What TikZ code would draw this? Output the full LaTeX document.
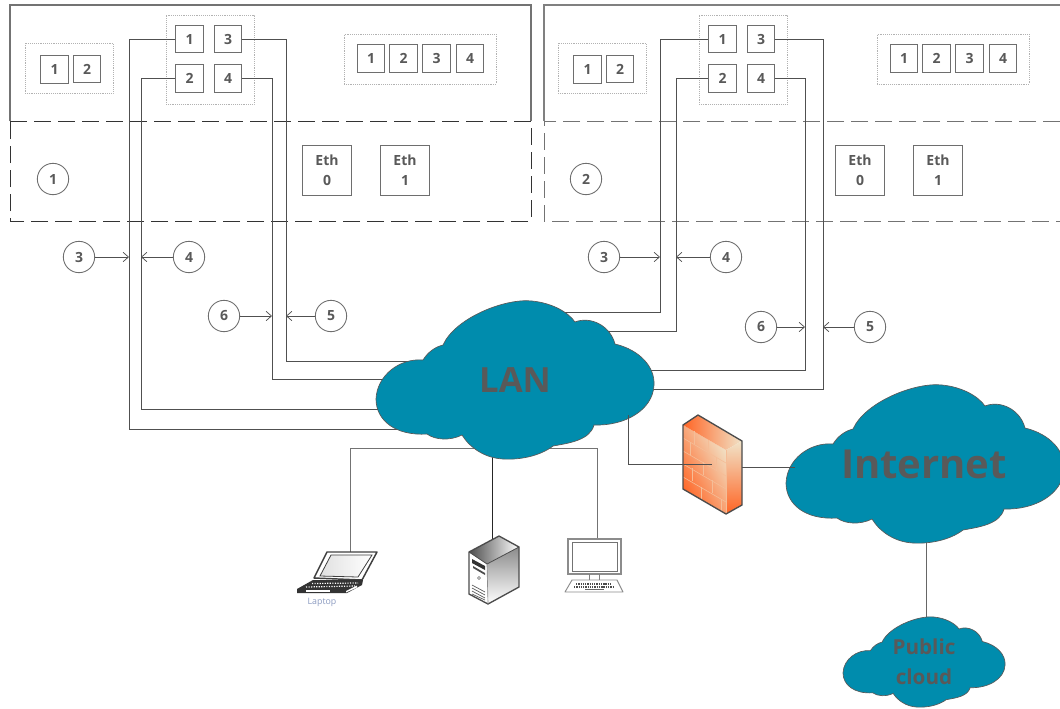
\documentclass[tikz,border=0pt]{standalone}
\usepackage{fontspec}
\setmainfont{Open Sans}
\usetikzlibrary{arrows.meta,calc}
\definecolor{wire}{HTML}{505050}
\definecolor{boxline}{HTML}{6E6E6E}
\definecolor{txt}{HTML}{595959}
\definecolor{cloudblue}{HTML}{008CAD}
\definecolor{brickorange}{HTML}{FF6424}
\definecolor{brickcream}{HTML}{F1E3C8}
\definecolor{labelblue}{HTML}{8A9AC0}
\tikzset{
  wireline/.style={draw=wire,line width=0.65pt},
  frameline/.style={draw=#1,line width=0.85pt},
  dashline/.style={draw=#1,line width=0.65pt,dash pattern=on 12.5pt off 5.5pt},
  dotgroup/.style={draw=black!30,line width=0.4pt,densely dotted},
  portbox/.style={draw=boxline,line width=0.95pt,fill=white,minimum width=20.5pt,minimum height=20.5pt,inner sep=0pt,text=txt,font=\fontsize{10.5}{12}\selectfont\bfseries},
  ethbox/.style={draw=boxline,line width=0.85pt,fill=white,minimum width=37pt,minimum height=37pt,inner sep=0pt,text=txt,align=center,font=\fontsize{10.5}{15}\selectfont\bfseries},
  numcircle/.style={circle,draw=boxline,line width=0.65pt,fill=white,minimum size=23.5pt,inner sep=0pt,text=txt,font=\fontsize{10.5}{12}\selectfont\bfseries},
  callout/.style={draw=wire,line width=0.6pt,-{Straight Barb[length=4pt,width=7pt,line width=0.55pt]}},
  cloudshape/.style={fill=cloudblue,draw=black!65,line width=0.5pt},
  cloudtext/.style={text=txt,font=\bfseries,inner sep=0pt,align=center},
  brickline/.style={draw=brickcream!70!brickorange,line width=0.45pt},
  devline/.style={draw=black!75,line width=1pt,line join=round},
}
% cloud outline in the pixel coordinates of the LAN cloud
\newcommand{\cloudoutline}{
  (443,345) .. controls (455,318) and (505,298) .. (532,301)
  .. controls (552,303) and (568,312) .. (575,322)
  .. controls (590,316) and (610,325) .. (615,344)
  .. controls (640,350) and (655,367) .. (654,385)
  .. controls (653,410) and (625,426) .. (594,425)
  .. controls (590,440) and (570,443) .. (553,446)
  .. controls (540,456) and (520,460) .. (503,459)
  .. controls (485,458) and (470,448) .. (462,435)
  .. controls (450,441) and (435,440) .. (427,434)
  .. controls (395,436) and (376,420) .. (376,399)
  .. controls (377,375) and (400,358) .. (423,360)
  .. controls (428,352) and (435,347) .. (443,345) -- cycle
}
% ports, groups and frames common to both servers
\newcommand{\servertop}{
  \node[dotgroup,minimum width=66pt,minimum height=37.5pt,inner sep=0pt] (gl) at (69,68) {};
  \node[dotgroup,minimum width=66pt,minimum height=67pt,inner sep=0pt] (gm) at (210,59.5) {};
  \node[dotgroup,minimum width=114pt,minimum height=37.5pt,inner sep=0pt] (gr) at (420,59) {};
  \node[portbox] (l1) at (54.5,69.5) {1};
  \node[portbox] (l2) at (87,69) {2};
  \node[portbox] (p1) at (189.5,39) {1};
  \node[portbox] (p3) at (228,39) {3};
  \node[portbox] (p2) at (189.5,78.5) {2};
  \node[portbox] (p4) at (228,78.5) {4};
  \node[portbox] (r1) at (371,58.5) {1};
  \node[portbox] (r2) at (403.5,58.5) {2};
  \node[portbox] (r3) at (436.5,58.5) {3};
  \node[portbox] (r4) at (470,58.5) {4};
  \node[ethbox] (e0) at (327,170.5) {Eth\\0};
  \node[ethbox] (e1) at (405,170.5) {Eth\\1};
}
\begin{document}
\begin{tikzpicture}[x=0.75pt,y=-0.75pt]
\useasboundingbox (0,0) rectangle (1060,708);
\fill[white] (0,0) rectangle (1060,708);

% server frames
\draw[frameline=black!55] (10,121) -- (10,5) -- (531,5) -- (531,121);
\draw[dashline=black!80] (10,121) -- (531,121) -- (531,221) -- (10,221) -- cycle;
\draw[frameline=black!50] (544,121) -- (544,5) -- (1060,5);
\draw[dashline=black!55] (1060,121) -- (544,121) -- (544,221) -- (1060,221);

% wires, server 1
\coordinate (a1b) at (129,429); \coordinate (a1e) at (400,429);
\coordinate (a2b) at (141,409); \coordinate (a2e) at (400,409);
\coordinate (a3b) at (286,361); \coordinate (a3e) at (420,361);
\coordinate (a4b) at (272,379); \coordinate (a4e) at (400,379);
% wires, server 2
\coordinate (b1b) at (660,312); \coordinate (b1e) at (560,312);
\coordinate (b2b) at (676,331); \coordinate (b2e) at (600,331);
\coordinate (b3b) at (823,389); \coordinate (b3e) at (640,389);
\coordinate (b4b) at (805,370); \coordinate (b4e) at (640,370);

\begin{scope}[name prefix=a-]\servertop\end{scope}
\begin{scope}[shift={(533,0)},name prefix=b-]\servertop\end{scope}

\draw[wireline] (a-p1.west) -| (a1b) -- (a1e);
\draw[wireline] (a-p2.west) -| (a2b) -- (a2e);
\draw[wireline] (a-p3.east) -| (a3b) -- (a3e);
\draw[wireline] (a-p4.east) -| (a4b) -- (a4e);
\draw[wireline] (b-p1.west) -| (b1b) -- (b1e);
\draw[wireline] (b-p2.west) -| (b2b) -- (b2e);
\draw[wireline] (b-p3.east) -| (b3b) -- (b3e);
\draw[wireline] (b-p4.east) -| (b4b) -- (b4e);

% number circles and their arrows
\node[numcircle] (n1) at (53,179) {1};
\node[numcircle] (m2) at (586,179) {2};
\node[numcircle] (n3) at (79,257) {3};
\node[numcircle] (n4) at (189,257) {4};
\node[numcircle] (n6) at (224,316) {6};
\node[numcircle] (n5) at (331,316) {5};
\node[numcircle] (m3) at (604,257) {3};
\node[numcircle] (m4) at (726,257) {4};
\node[numcircle] (m6) at (761,327) {6};
\node[numcircle] (m5) at (870,327) {5};
\coordinate (t3) at (129,257); \coordinate (t4) at (141,257);
\coordinate (t6) at (272,316); \coordinate (t5) at (286,316);
\coordinate (u3) at (660,257); \coordinate (u4) at (676,257);
\coordinate (u6) at (805,327); \coordinate (u5) at (823,327);
\draw[callout] (n3) -- (t3); \draw[callout] (n4) -- (t4);
\draw[callout] (n6) -- (t6); \draw[callout] (n5) -- (t5);
\draw[callout] (m3) -- (u3); \draw[callout] (m4) -- (u4);
\draw[callout] (m6) -- (u6); \draw[callout] (m5) -- (u5);

% connectors below the LAN
\coordinate (lanBL) at (480,448); \coordinate (lanBR) at (540,448);
\coordinate (lanB) at (492,450); \coordinate (lanFW) at (628,415);
\coordinate (lapTop) at (350,552); \coordinate (pcTop) at (597,540);
\coordinate (srvTop) at (492,540); \coordinate (fwIn) at (712,464);
\coordinate (fwOut) at (742,467); \coordinate (netIn) at (795,467);
\coordinate (netOut) at (926,540); \coordinate (pubIn) at (926,620);
\draw[wireline,draw=black!55] (lanBL) -| (lapTop);
\draw[wireline,draw=black!55] (lanBR) -| (pcTop);
\draw[wireline,draw=black!85] (lanB) -- (srvTop);
\draw[wireline,draw=black!60] (netOut) -- (pubIn);

% clouds
\fill[cloudshape] \cloudoutline;
\begin{scope}[shift={(410,84)}]\fill[cloudshape] \cloudoutline;\end{scope}
\begin{scope}[shift={(843,617)},xscale=0.583,yscale=0.57,shift={(-376,-301)}]\fill[cloudshape] \cloudoutline;\end{scope}
\node[cloudtext,font=\fontsize{26}{30}\selectfont\bfseries] (lan) at (515,380) {LAN};
\node[cloudtext,font=\fontsize{30}{34}\selectfont\bfseries] (net) at (924,464) {Internet};
\node[cloudtext,font=\fontsize{15.5}{22.5}\selectfont\bfseries] (pub) at (924,662) {Public\\cloud};

% firewall
\shade[bottom color=brickorange,middle color=brickorange!75!brickcream,top color=brickcream,shading angle=-62,draw=none] (683,425) -- (726,450) -- (726,514) -- (683,489) -- cycle;
\shade[left color=brickorange,right color=brickcream,draw=none] (683,425) -- (698,415) -- (742,441) -- (726,450) -- cycle;
\shade[top color=brickcream,bottom color=brickorange,draw=none] (726,450) -- (742,441) -- (742,505) -- (726,514) -- cycle;
\draw[brickline] (683,438) -- (726,463) (683,451) -- (726,476) (683,464) -- (726,489) (683,477) -- (726,502);
\draw[brickline] (694,431) -- (694,444) (708,440) -- (708,453) (690,442) -- (690,455) (703,462) -- (703,475)
  (716,457) -- (716,470) (692,468) -- (692,481) (712,480) -- (712,493) (701,487) -- (701,500) (721,499) -- (721,512);
\draw[brickline] (726,450) -- (726,514);
\draw[devline,draw=black!70] (683,425) -- (698,415) -- (742,441) -- (742,505) -- (726,514) -- (683,489) -- cycle;
\draw[wireline] (lanFW) |- (fwIn);
\draw[wireline] (fwOut) -- (netIn);

% server tower
\fill[white] (469,552) -- (499,536) -- (519,547) -- (519,587) -- (488,604) -- (469,594) -- cycle;
\shade[left color=black!70,right color=white] (469,552) -- (499,536) -- (519,547) -- (487,564) -- cycle;
\shade[left color=black!45,right color=white,shading angle=0] (487,564) -- (519,547) -- (519,587) -- (488,604) -- cycle;
\fill[black!80] (472,559) -- (485,566) -- (485,570) -- (472,563) -- cycle;
\fill[black!70] (473,566) -- (485,573) -- (485,575) -- (473,568) -- cycle;
\draw[black!60,line width=0.4pt] (479,578) circle (1.6);
\draw[black!65,line width=0.5pt] (472,585) -- (485,592) (472,588) -- (485,595) (472,591) -- (485,598) (472,594) -- (485,600);
\draw[devline,draw=black!70] (469,552) -- (499,536) -- (519,547) -- (519,587) -- (488,604) -- (469,594) -- cycle;
\draw[black!70,line width=0.6pt] (469,552) -- (487,564) -- (519,547);
\draw[black!45,line width=0.5pt] (487,564) -- (488,604);

% desktop computer
\draw[black!45,line width=0.9pt,fill=white] (568,539) rectangle (621,574);
\draw[black!55,line width=0.7pt] (572,542) rectangle (617,571);
\draw[black!50,line width=0.6pt] (589,574) -- (589,580) (599,574) -- (599,580);
\draw[black!45,line width=0.7pt,line join=round] (572,580) -- (617,580) -- (623,592) -- (565,592) -- cycle;
\draw[black!70,line width=1.5pt,dash pattern=on 1pt off 0.7pt] (576,583.5) -- (612,583.5) (574,586.5) -- (614,586.5);
\draw[black!60,line width=1pt] (585,589.5) -- (604,589.5);

% laptop
\shade[left color=black!12,right color=white] (331,555) -- (372,555) -- (358,577) -- (320,576) -- cycle;
\draw[black!75,line width=1.1pt,line join=round] (327,552) -- (377,552) -- (362,580) -- (314,578) -- cycle;
\draw[black!75,line width=0.6pt] (331,555) -- (372,555) -- (358,577) -- (320,576) -- cycle;
\fill[black!80] (313,580) -- (363,580) -- (362,585) -- (347,593) -- (297,593) -- (297,589) -- cycle;
\fill[white] (306,589.5) -- (330,589.5) -- (330,592) -- (306,592) -- cycle;
\fill[white] (346,591) -- (357,585.5) -- (357,587.5) -- (346,592.5) -- cycle;
\draw[white,line width=0.9pt,densely dotted] (306,587) -- (355,586) (312,583.5) -- (358,583);
\node[inner sep=0pt,text=labelblue,font=\fontsize{6.6}{8}\selectfont] (laplabel) at (322,602) {Laptop};
\end{tikzpicture}
\end{document}
